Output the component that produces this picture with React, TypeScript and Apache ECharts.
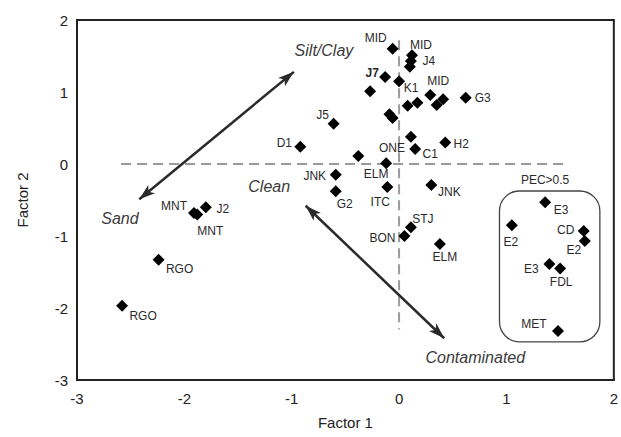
import React, { useEffect, useRef } from "react";
import * as echarts from "echarts";

// Site scores (Factor 1, Factor 2)
const siteNames = [
  "MID", "MID", "J4", "", "J7", "K1", "", "MID", "", "", "", "", "G3", "", "",
  "J5", "D1", "ONE", "H2", "C1", "", "ELM", "JNK", "G2", "ITC", "JNK", "STJ",
  "BON", "ELM", "J2", "MNT", "MNT", "RGO", "RGO", "E3", "E2", "CD", "E2", "E3",
  "FDL", "MET",
];
const factor1 = [
  -0.06, 0.12, 0.11, 0.1, -0.13, 0.0, -0.27, 0.29, 0.08, 0.17, 0.35, 0.41, 0.62,
  -0.09, -0.06, -0.61, -0.92, 0.11, 0.43, 0.15, -0.38, -0.12, -0.59, -0.59,
  -0.11, 0.3, 0.11, 0.05, 0.38, -1.8, -1.91, -1.88, -2.24, -2.58, 1.36, 1.05,
  1.72, 1.73, 1.4, 1.5, 1.48,
];
const factor2 = [
  1.6, 1.51, 1.43, 1.35, 1.21, 1.15, 1.01, 0.96, 0.81, 0.85, 0.82, 0.9, 0.92,
  0.69, 0.64, 0.56, 0.24, 0.38, 0.3, 0.21, 0.11, 0.01, -0.15, -0.38, -0.32,
  -0.29, -0.88, -1.0, -1.11, -0.6, -0.68, -0.7, -1.33, -1.97, -0.53, -0.85,
  -0.93, -1.07, -1.39, -1.45, -2.32,
];
// label placement (px offset from marker centre)
const labelOffsets: number[][] = [
  [-17, -11], [9, -10], [18, 0], [0, 0], [-13, -4], [12, 7], [0, 0], [8, -14],
  [0, 0], [0, 0], [0, 0], [0, 0], [17, 0], [0, 0], [0, 0], [-11, -9],
  [-16, -4], [-19, 11], [16, 2], [15, 5], [0, 0], [-10, 11], [-21, 1], [9, 13],
  [-7, 15], [18, 7], [12, -8], [-22, 2], [5, 13], [17, 2], [-20, -7], [13, 17],
  [21, 9], [21, 10], [16, 8], [-1, 17], [-18, -1], [-11, 9], [-18, 5], [1, 14],
  [-24, -7],
];
const boldLabels = ["J7"];

// axes
const axisMin = -3;
const axisMax = 2;
const axisStep = 1;

// reference lines at zero
const hZero = [[-2.59, 0], [1.58, 0]];
const vZero = [[0, 1.72], [0, -2.3]];

// gradient arrows
const arrows = [
  [[-2.42, -0.49], [-0.98, 1.28]],
  [[-0.87, -0.58], [0.42, -2.42]],
];

// annotation texts
const noteTexts = ["Silt/Clay", "Sand", "Clean", "Contaminated", "PEC>0.5"];
const noteX = [-0.7, -2.6, -1.21, 0.71, 1.36];
const noteY = [1.58, -0.75, -0.31, -2.69, -0.22];
const noteItalic = [true, true, true, true, false];

// PEC>0.5 enclosure
const pecBox = [0.935, -0.375, 1.87, -2.47];

export default function App() {
  const ref = useRef<HTMLDivElement>(null);
  useEffect(() => {
    const chart = echarts.init(ref.current!, undefined, { renderer: "svg" });
    const font = "Arial, 'Liberation Sans', sans-serif";
    const siteData = factor1.map((x, i) => ({
      value: [x, factor2[i]],
      label: {
        show: siteNames[i] !== "",
        formatter: siteNames[i],
        position: "inside",
        offset: labelOffsets[i],
        align: "center",
        verticalAlign: "middle",
        fontSize: 12,
        color: "#2a2a2a",
        fontFamily: font,
        fontWeight: boldLabels.includes(siteNames[i]) ? "bold" : "normal",
      },
    }));
    const noteData = noteTexts.map((t, i) => ({
      value: [noteX[i], noteY[i]],
      label: {
        show: true,
        formatter: t,
        position: "inside",
        align: "center",
        verticalAlign: "middle",
        fontSize: noteItalic[i] ? 16 : 12,
        fontStyle: noteItalic[i] ? "italic" : "normal",
        color: noteItalic[i] ? "#3a3a3a" : "#2a2a2a",
        fontFamily: font,
      },
    }));
    const dash = { type: [10, 6] as any, color: "#9a9a9a", width: 2 };
    chart.setOption({
      animation: false,
      backgroundColor: "#fff",
      textStyle: { fontFamily: font },
      grid: {
        left: 77,
        right: 4,
        top: 20,
        bottom: 57,
        show: true,
        borderColor: "#222",
        borderWidth: 2,
        backgroundColor: "transparent",
      },
      xAxis: {
        type: "value",
        min: axisMin,
        max: axisMax,
        interval: axisStep,
        name: "Factor 1",
        nameLocation: "middle",
        nameGap: 35,
        nameTextStyle: { fontSize: 15, color: "#222", fontFamily: font },
        axisLine: { show: true, onZero: false, lineStyle: { color: "#222", width: 2 } },
        axisTick: { show: false },
        splitLine: { show: false },
        axisLabel: { fontSize: 15, color: "#222", margin: 11, fontFamily: font },
      },
      yAxis: {
        type: "value",
        min: axisMin,
        max: axisMax,
        interval: axisStep,
        name: "Factor 2",
        nameLocation: "middle",
        nameGap: 47,
        nameTextStyle: { fontSize: 15, color: "#222", fontFamily: font },
        axisLine: { show: true, onZero: false, lineStyle: { color: "#222", width: 2 } },
        axisTick: { show: false },
        splitLine: { show: false },
        axisLabel: { fontSize: 15, color: "#222", margin: 9, fontFamily: font },
      },
      series: [
        {
          type: "line",
          data: hZero,
          symbol: "none",
          lineStyle: dash,
          silent: true,
          z: 1,
        },
        {
          type: "line",
          data: vZero,
          symbol: "none",
          lineStyle: dash,
          silent: true,
          z: 1,
        },
        {
          type: "custom",
          data: [pecBox],
          silent: true,
          z: 1,
          renderItem: (params: any, api: any) => {
            const p1 = api.coord([api.value(0), api.value(1)]);
            const p2 = api.coord([api.value(2), api.value(3)]);
            return {
              type: "rect",
              shape: { x: p1[0], y: p1[1], width: p2[0] - p1[0], height: p2[1] - p1[1], r: 20 },
              style: { fill: "none", stroke: "#444", lineWidth: 1.3 },
            };
          },
        },
        {
          type: "line",
          data: [],
          symbol: "none",
          markLine: {
            silent: true,
            symbol: ["arrow", "arrow"],
            symbolSize: [8, 16],
            label: { show: false },
            lineStyle: { color: "#2a2a2a", width: 2.5, type: "solid", opacity: 1 },
            itemStyle: { color: "#2a2a2a", opacity: 1 },
            data: arrows.map((a) => [{ coord: a[0] }, { coord: a[1] }]),
          },
        },
        {
          type: "scatter",
          data: siteData,
          symbol: "diamond",
          symbolSize: 12,
          itemStyle: { color: "#000", opacity: 1 },
          z: 5,
        },
        {
          type: "scatter",
          data: noteData,
          symbolSize: 0,
          itemStyle: { opacity: 1 },
          silent: true,
          z: 6,
        },
      ],
    });
    return () => chart.dispose();
  }, []);
  return (
    <div
      ref={ref}
      style={{ position: "fixed", left: 0, top: 0, width: 621, height: 437, background: "#fff" }}
    />
  );
}
